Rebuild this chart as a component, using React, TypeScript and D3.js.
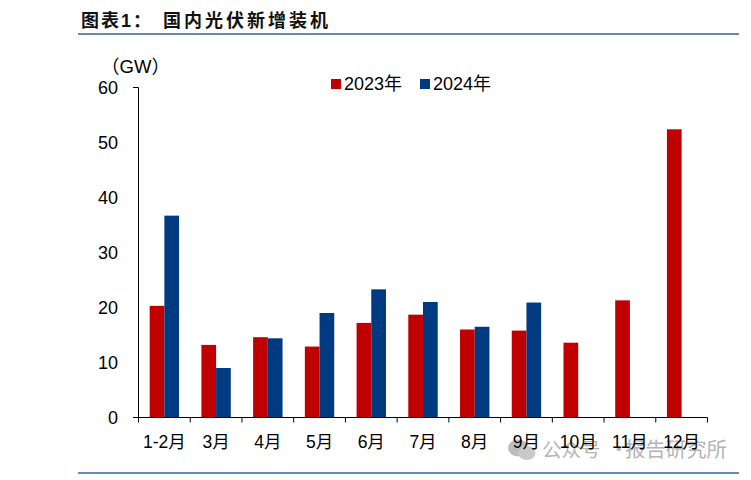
import React from "react";
import * as d3 from "d3";

const categories = ["1-2月", "3月", "4月", "5月", "6月", "7月", "8月", "9月", "10月", "11月", "12月"];
const values2023 = [20.3, 13.2, 14.6, 12.9, 17.2, 18.7, 16, 15.8, 13.6, 21.3, 52.4];
const values2024: (number | null)[] = [36.7, 9, 14.4, 19, 23.3, 21, 16.5, 20.9, null, null, null];
const yTicks = [0, 10, 20, 30, 40, 50, 60];
const RED = "#C00000";
const BLUE = "#003A80";
const FONT = "'Liberation Sans', 'Noto Sans CJK SC', sans-serif";
const CJK = "'Noto Sans CJK SC', sans-serif";

export default function App() {
  const x = d3.scaleBand<string>().domain(categories).range([138.5, 707.5]);
  const y = d3.scaleLinear().domain([0, 60]).range([417.5, 87.5]);
  const bw = 14.7;
  const boundaries = [...categories.map((c) => x(c)!), x.range()[1]];
  return (
    <svg width={751} height={480} style={{ position: "absolute", left: 0, top: 0, background: "#fff" }} fontFamily={FONT}>
      <text x={81} y={27} fontSize={18} fontWeight={700} letterSpacing={2} fill="#111" fontFamily={CJK}>
        图表<tspan fontFamily="'Liberation Sans'">1</tspan>：
      </text>
      <text x={163} y={27} fontSize={18} fontWeight={700} letterSpacing={3} fill="#111" fontFamily={CJK}>
        国内光伏新增装机
      </text>
      <line x1={78} x2={739} y1={34} y2={34} stroke="#6A8AB5" strokeWidth={2} />
      <line x1={78} x2={739} y1={473} y2={473} stroke="#6A8AB5" strokeWidth={2} />

      <g opacity={0.9}>
        <ellipse cx={518} cy={448} rx={10} ry={8.5} fill="#b5b5b5" />
        <ellipse cx={527} cy={453} rx={8.5} ry={7} fill="#c4c4c4" />
      </g>
      <g fontFamily={CJK} fill="#b4b4b4">
        <text x={542} y={457} fontSize={19.5}>公众号</text>
        <text x={609} y={457} fontSize={19.5}>·</text>
        <text x={625} y={457} fontSize={20.4}>报告研究所</text>
      </g>

      {categories.map((c, i) => {
        const x0 = x(c)! + x.bandwidth() / 2;
        const v24 = values2024[i];
        return (
          <g key={c}>
            <rect x={x0 - bw} width={bw} y={y(values2023[i])} height={y(0) - y(values2023[i])} fill={RED} />
            {v24 != null && <rect x={x0} width={bw} y={y(v24)} height={y(0) - y(v24)} fill={BLUE} />}
          </g>
        );
      })}

      <path d={`M133,${y(60)}H${x.range()[0]}V${y(0)}`} fill="none" stroke="#000" strokeWidth={1} />
      <path d={`M133,${y(0)}H${x.range()[1]}`} fill="none" stroke="#000" strokeWidth={1} />
      {boundaries.map((b, i) => (
        <line key={i} x1={b} x2={b} y1={y(0)} y2={y(0) + 5} stroke="#000" />
      ))}
      {yTicks.map((t) => (
        <text key={t} x={118} y={y(t) + 6} fontSize={18} textAnchor="end" fill="#000">{t}</text>
      ))}
      {categories.map((c) => (
        <text key={c} x={x(c)! + x.bandwidth() / 2} y={448} fontSize={17.5} textAnchor="middle" fill="#000">{c}</text>
      ))}
      <text x={101} y={73} fontSize={18.5} fill="#000" fontFamily={CJK}>（<tspan fontFamily="'Liberation Sans'">GW</tspan>）</text>

      <rect x={331} y={79} width={10} height={10} fill={RED} />
      <text x={344} y={90} fontSize={18} fill="#000">2023年</text>
      <rect x={420} y={79} width={10} height={10} fill={BLUE} />
      <text x={433} y={90} fontSize={18} fill="#000">2024年</text>
    </svg>
  );
}
